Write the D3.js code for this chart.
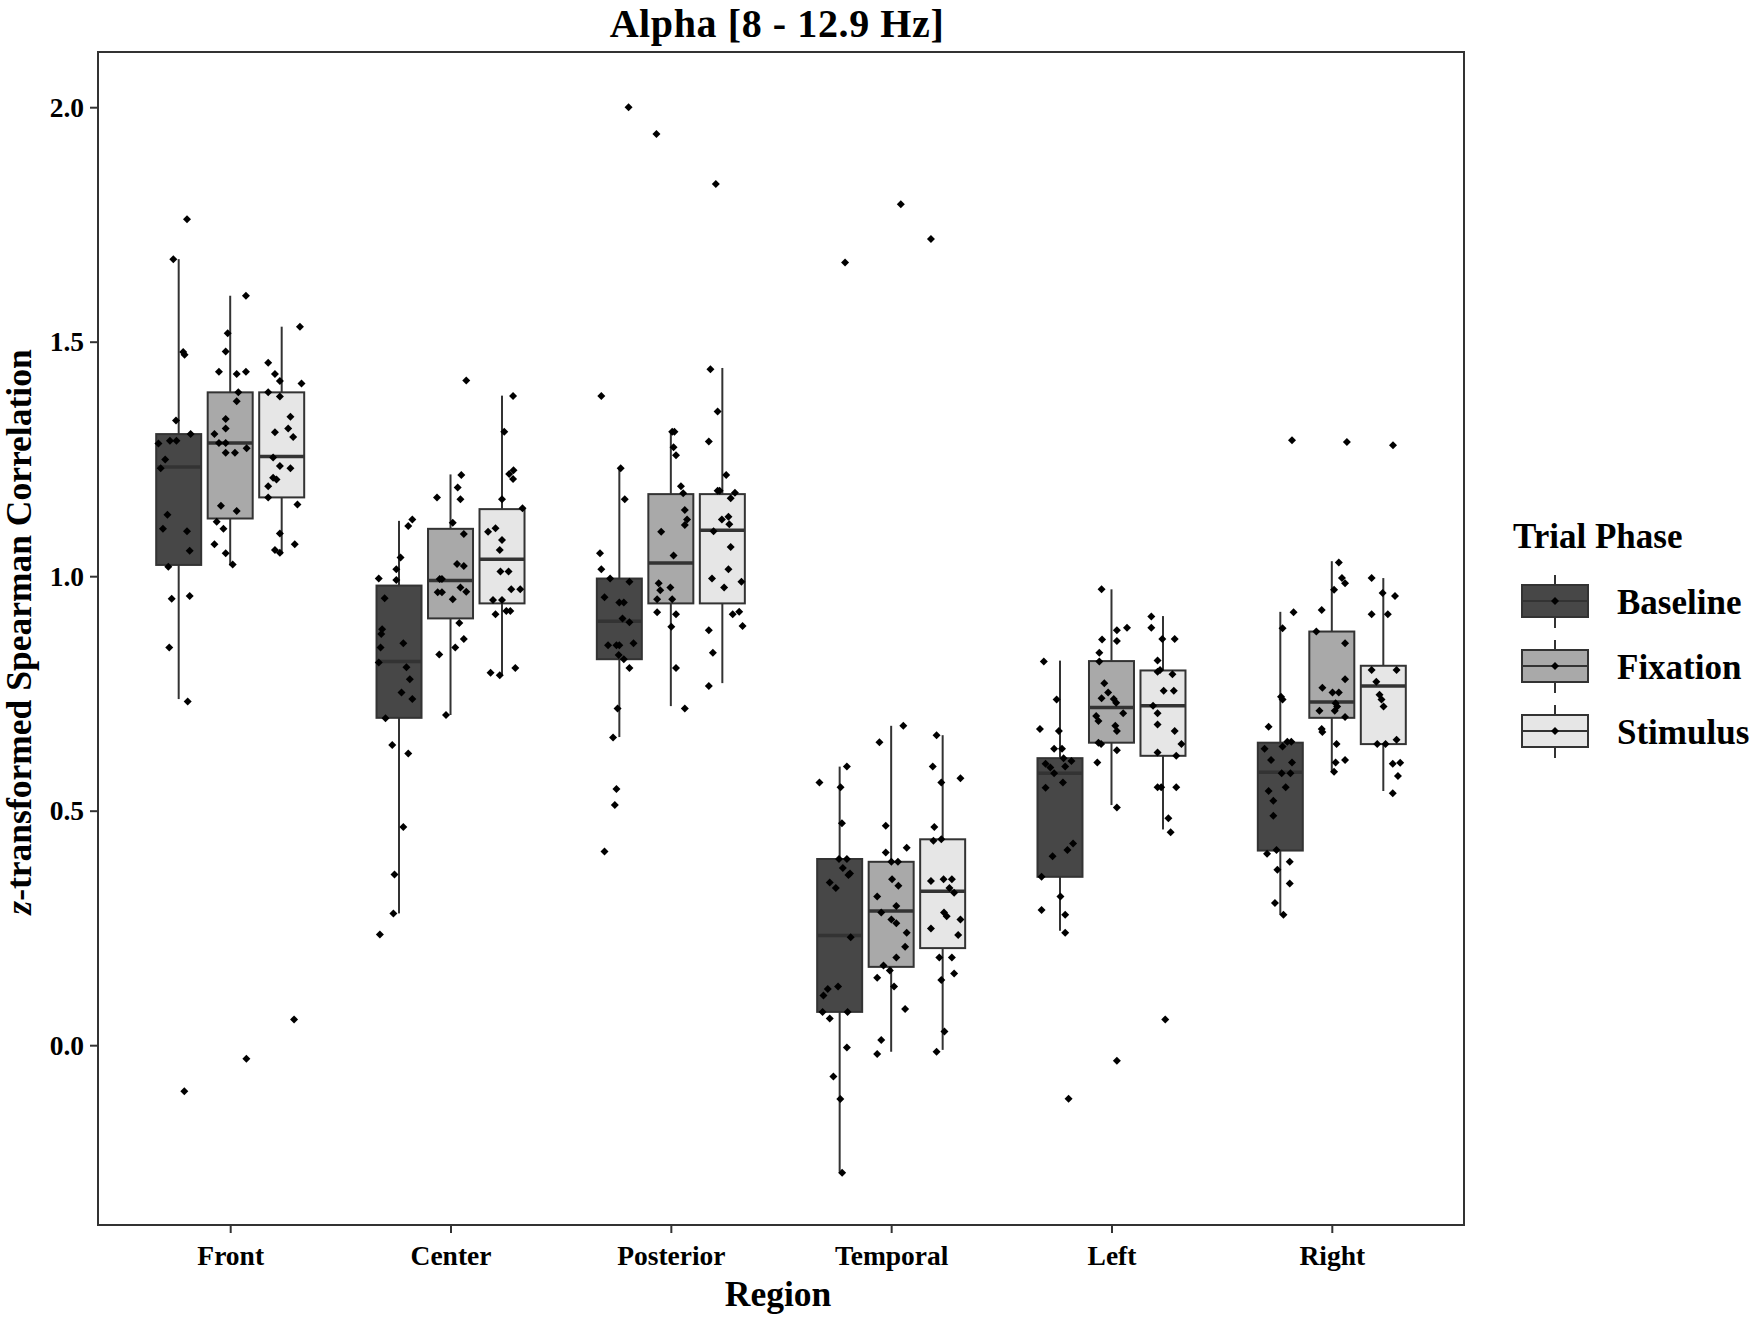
<!DOCTYPE html>
<html>
<head>
<meta charset="utf-8">
<script src="https://cdn.jsdelivr.net/npm/d3@7"></script>
<style>
    body { margin: 0; background: #ffffff; }
    text { font-family: 'Liberation Serif', 'Times New Roman', serif; font-weight: bold; fill: #000000; }
</style>
</head>
<body>
<div id="chart"></div>
<script>
var regions = ['Front', 'Center', 'Posterior', 'Temporal', 'Left', 'Right'];
var phases = ['Baseline', 'Fixation', 'Stimulus'];
var yTicks = [0.0, 0.5, 1.0, 1.5, 2.0];

// box stats per region: [lower whisker, q1, median, q3, upper whisker]
var baselineBoxes = [
    [0.738, 1.024, 1.233, 1.303, 1.676],
    [0.281, 0.698, 0.818, 0.980, 1.118],
    [0.657, 0.823, 0.904, 0.995, 1.230],
    [-0.270, 0.071, 0.234, 0.397, 0.594],
    [0.244, 0.359, 0.580, 0.612, 0.820],
    [0.278, 0.415, 0.582, 0.645, 0.924]
];
var fixationBoxes = [
    [1.023, 1.123, 1.284, 1.392, 1.598],
    [0.704, 0.910, 0.991, 1.101, 1.217],
    [0.723, 0.942, 1.028, 1.175, 1.308],
    [-0.014, 0.167, 0.286, 0.391, 0.681],
    [0.512, 0.645, 0.720, 0.819, 0.972],
    [0.583, 0.698, 0.732, 0.882, 1.032]
];
var stimulusBoxes = [
    [1.047, 1.168, 1.255, 1.392, 1.532],
    [0.789, 0.942, 1.036, 1.143, 1.385],
    [0.772, 0.942, 1.098, 1.175, 1.444],
    [-0.010, 0.207, 0.328, 0.439, 0.661],
    [0.460, 0.617, 0.724, 0.799, 0.915],
    [0.542, 0.642, 0.766, 0.809, 0.996]
];

// jittered observations: [value, jitter (-1..1 of half box width)]
var frontBaseline = [[1.761, 0.37], [1.676, -0.24], [1.478, 0.2], [1.472, 0.26], [1.332, -0.12], [1.303, 0.53], [1.289, -0.39], [1.289, -0.1], [1.283, -0.9], [1.249, -0.6], [1.230, -0.8], [1.131, -0.5], [1.101, -0.7], [1.096, 0.37], [1.054, 0.49], [1.020, -0.46], [0.952, -0.31], [0.958, 0.49], [0.848, -0.42], [0.733, 0.4], [-0.098, 0.25]];
var frontFixation = [[1.598, 0.70], [1.518, -0.11], [1.479, -0.2], [1.436, -0.5], [1.431, 0.29], [1.436, 0.70], [1.392, 0.36], [1.373, 0.29], [1.335, -0.2], [1.315, -0.2], [1.303, -0.7], [1.284, -0.5], [1.284, -0.2], [1.273, 0.73], [1.263, -0.2], [1.263, 0.21], [1.150, -0.41], [1.139, 0.29], [1.116, -0.6], [1.101, -0.3], [1.068, -0.7], [1.049, -0.2], [1.025, 0.11], [-0.029, 0.72]];
var frontStimulus = [[1.532, 0.81], [1.455, -0.6], [1.431, -0.3], [1.416, -0.08], [1.411, 0.88], [1.392, -0.6], [1.383, -0.08], [1.340, 0.39], [1.315, 0.29], [1.307, -0.3], [1.297, 0.51], [1.253, -0.38], [1.235, -0.08], [1.230, 0.39], [1.210, -0.38], [1.206, -0.23], [1.192, -0.6], [1.168, -0.6], [1.153, 0.7], [1.091, -0.08], [1.056, -0.3], [1.050, -0.08], [1.068, 0.58], [0.055, 0.55]];
var centerBaseline = [[1.121, 0.59], [1.107, 0.41], [1.040, 0.07], [1.015, -0.12], [0.992, -0.12], [0.995, -0.9], [0.953, -0.64], [0.887, -0.75], [0.877, -0.79], [0.857, 0.19], [0.848, -0.82], [0.816, -0.9], [0.806, 0.33], [0.780, 0.48], [0.752, 0.11], [0.738, 0.59], [0.697, -0.6], [0.640, -0.3], [0.622, 0.41], [0.465, 0.19], [0.364, -0.2], [0.281, -0.25], [0.236, -0.85]];
var centerFixation = [[1.417, 0.7], [1.216, 0.48], [1.189, 0.32], [1.168, -0.6], [1.164, 0.44], [1.114, 0.1], [1.090, 0.59], [1.026, 0.29], [1.022, 0.59], [0.994, -0.48], [0.994, -0.38], [0.976, 0.44], [0.966, -0.57], [0.966, -0.38], [0.951, 0.1], [0.967, 0.7], [0.900, 0.39], [0.866, 0.59], [0.848, 0.21], [0.833, -0.5], [0.704, -0.2]];
var centerStimulus = [[1.384, 0.49], [1.308, 0.1], [1.218, 0.32], [1.226, 0.51], [1.207, 0.49], [1.164, 0], [1.145, 0.91], [1.095, -0.62], [1.102, -0.29], [1.077, 0], [1.056, -0.1], [1.010, -0.07], [1.010, 0.29], [0.972, 0.41], [0.972, 0.81], [0.949, -0.4], [0.949, 0], [0.919, -0.29], [0.926, 0.19], [0.926, 0.37], [0.794, -0.51], [0.789, -0.1], [0.804, 0.59]];
var posteriorBaseline = [[2.000, 0.41], [1.384, -0.8], [1.230, 0.06], [1.164, 0.24], [1.049, -0.86], [1.015, -0.8], [0.995, -0.41], [0.988, 0.45], [0.955, -0.66], [0.944, 0], [0.944, 0.2], [0.910, 0.14], [0.902, 0.45], [0.853, -0.5], [0.853, -0.13], [0.853, 0], [0.857, 0.63], [0.832, -0.03], [0.823, 0.2], [0.804, 0.45], [0.718, -0.08], [0.656, -0.28], [0.546, -0.13], [0.512, -0.2], [0.413, -0.66]];
var posteriorFixation = [[1.943, -0.64], [1.308, 0.06], [1.308, 0.16], [1.275, 0.12], [1.258, 0.23], [1.192, 0.45], [1.177, 0.55], [1.141, 0.62], [1.121, 0.72], [1.109, 0.62], [1.095, -0.43], [1.044, 0.12], [0.985, -0.54], [0.970, -0.47], [0.976, -0.02], [0.951, -0.61], [0.951, 0.06], [0.923, -0.61], [0.919, 0.23], [0.892, 0.02], [0.804, 0.23], [0.718, 0.62]];
var posteriorStimulus = [[1.836, -0.29], [1.441, -0.53], [1.351, -0.21], [1.287, -0.6], [1.216, 0.17], [1.182, -0.21], [1.182, -0.12], [1.178, 0.56], [1.166, 0.37], [1.127, 0.27], [1.121, -0.02], [1.111, 0.31], [1.096, -0.39], [1.062, 0.37], [1.015, 0.27], [0.995, -0.46], [0.988, 0.85], [0.976, 0.08], [0.919, 0.46], [0.924, 0.75], [0.894, 0.9], [0.885, -0.6], [0.837, -0.42], [0.766, -0.6]];
var temporalBaseline = [[1.669, 0.24], [0.560, -0.9], [0.594, 0.32], [0.550, 0.04], [0.473, 0.1], [0.397, -0.03], [0.397, 0.32], [0.378, 0.14], [0.366, 0.46], [0.363, 0.39], [0.347, -0.44], [0.335, -0.17], [0.230, 0.49], [0.125, -0.07], [0.120, -0.53], [0.106, -0.72], [0.071, -0.76], [0.071, 0.35], [0.057, -0.44], [-0.005, 0.32], [-0.067, -0.28], [-0.115, 0.03], [-0.272, 0.11]];
var temporalFixation = [[1.793, 0.43], [0.681, 0.54], [0.646, -0.52], [0.468, -0.24], [0.421, 0.69], [0.411, -0.24], [0.391, 0.01], [0.391, 0.3], [0.354, 0.04], [0.340, 0.32], [0.317, -0.62], [0.297, 0.23], [0.283, -0.44], [0.268, 0.01], [0.260, 0.23], [0.240, 0.69], [0.210, 0.62], [0.187, 0.23], [0.170, -0.34], [0.144, -0.62], [0.159, -0.06], [0.125, 0.13], [0.077, 0.62], [0.011, -0.44], [-0.019, -0.62]];
var temporalStimulus = [[1.719, -0.52], [0.661, -0.27], [0.594, -0.44], [0.569, 0.79], [0.560, -0.06], [0.465, -0.37], [0.436, -0.41], [0.439, -0.06], [0.350, -0.52], [0.354, 0.04], [0.354, 0.41], [0.335, 0.3], [0.325, 0.51], [0.283, 0.06], [0.275, 0.18], [0.268, 0.79], [0.249, -0.52], [0.235, 0.69], [0.187, -0.15], [0.187, 0.41], [0.153, 0.51], [0.139, -0.06], [0.029, 0.08], [-0.014, -0.27]];
var leftBaseline = [[0.818, -0.72], [0.737, -0.15], [0.674, -0.89], [0.670, -0.05], [0.632, -0.26], [0.632, 0.09], [0.612, 0.16], [0.606, 0.51], [0.600, -0.64], [0.592, -0.43], [0.580, -0.26], [0.594, 0.23], [0.560, 0.13], [0.549, -0.64], [0.430, 0.58], [0.416, 0.33], [0.403, -0.33], [0.359, -0.82], [0.317, 0.02], [0.288, -0.82], [0.278, 0.23], [0.240, 0.23], [-0.114, 0.38]];
var leftFixation = [[0.972, -0.44], [0.885, 0.24], [0.890, 0.69], [0.862, 0.24], [0.865, -0.42], [0.837, -0.54], [0.818, -0.54], [0.772, -0.32], [0.752, -0.15], [0.738, 0.1], [0.740, -0.44], [0.730, 0.21], [0.708, 0.52], [0.702, -0.68], [0.691, -0.58], [0.681, 0.17], [0.670, 0.24], [0.645, -0.58], [0.642, -0.46], [0.629, 0.24], [0.603, -0.63], [0.507, 0.24], [-0.033, 0.24]];
var leftStimulus = [[0.914, -0.52], [0.890, -0.52], [0.866, -0.03], [0.866, 0.52], [0.820, -0.24], [0.796, -0.24], [0.800, -0.13], [0.791, 0.42], [0.756, 0.03], [0.756, 0.48], [0.724, -0.44], [0.708, -0.24], [0.684, -0.24], [0.670, 0.52], [0.642, 0.82], [0.624, -0.24], [0.617, 0.59], [0.550, -0.24], [0.550, -0.08], [0.550, 0.59], [0.484, 0.24], [0.454, 0.34], [0.055, 0.1]];
var rightBaseline = [[1.290, 0.52], [0.923, 0.59], [0.889, 0.1], [0.743, 0.03], [0.737, 0.1], [0.679, -0.52], [0.647, 0.49], [0.647, 0.31], [0.632, -0.7], [0.637, 0.1], [0.608, -0.41], [0.603, 0.52], [0.580, 0.06], [0.580, 0.45], [0.550, 0.24], [0.542, -0.52], [0.521, -0.31], [0.489, -0.31], [0.408, -0.59], [0.416, -0.17], [0.391, 0.42], [0.374, -0.13], [0.345, 0.42], [0.303, -0.24], [0.278, 0.14]];
var rightFixation = [[1.286, 0.67], [1.029, 0.31], [0.996, 0.45], [0.985, 0.59], [0.971, 0.1], [0.928, -0.45], [0.882, -0.69], [0.857, 0.59], [0.780, 0.59], [0.762, -0.42], [0.752, 0.03], [0.752, 0.31], [0.729, 0.17], [0.722, 0.24], [0.713, 0.13], [0.713, -0.55], [0.700, 0.59], [0.674, -0.45], [0.668, -0.42], [0.642, 0.21], [0.608, 0.59], [0.603, 0.17], [0.583, 0.1]];
var rightStimulus = [[1.279, 0.43], [0.996, -0.52], [0.964, -0.03], [0.958, 0.52], [0.919, -0.52], [0.919, 0.2], [0.800, -0.52], [0.800, 0.59], [0.775, -0.31], [0.747, -0.17], [0.737, -0.08], [0.722, 0.01], [0.642, -0.27], [0.642, 0.1], [0.651, 0.59], [0.600, 0.42], [0.602, 0.75], [0.574, 0.65], [0.537, 0.42]];

var phaseColors = ['#474747', '#a9a9a9', '#e6e6e6'];
var boxesByPhase = [baselineBoxes, fixationBoxes, stimulusBoxes];
var pointsByPhase = [
    [frontBaseline, centerBaseline, posteriorBaseline, temporalBaseline, leftBaseline, rightBaseline],
    [frontFixation, centerFixation, posteriorFixation, temporalFixation, leftFixation, rightFixation],
    [frontStimulus, centerStimulus, posteriorStimulus, temporalStimulus, leftStimulus, rightStimulus]
];

var width = 1751;
var height = 1318;
var panel = {left: 98, right: 1464, top: 52, bottom: 1225};
var lineColor = '#333333';
var boxWidth = 45;

var svg = d3.select('#chart')
    .append('svg')
    .attr('width', width)
    .attr('height', height);

var x = d3.scalePoint()
    .domain(regions)
    .range([panel.left, panel.right])
    .padding(0.6);

// dodge within each region
var dodge = d3.scalePoint()
    .domain(phases)
    .range([-51.5, 51.5]);

var y = d3.scaleLinear()
    .domain([-0.3834, 2.1177])
    .range([panel.bottom, panel.top]);

// flatten into one record per box
var boxes = [];
phases.forEach(function (phase, p) {
    regions.forEach(function (region, r) {
        var s = boxesByPhase[p][r];
        boxes.push({
            region: region,
            phase: phase,
            color: phaseColors[p],
            lo: s[0], q1: s[1], med: s[2], q3: s[3], hi: s[4],
            points: pointsByPhase[p][r]
        });
    });
});

function cx(d) {
    return x(d.region) + dodge(d.phase);
}

var plot = svg.append('g');

// whiskers
plot.selectAll('.whisker-hi')
    .data(boxes)
    .enter()
    .append('line')
    .attr('x1', cx)
    .attr('x2', cx)
    .attr('y1', function (d) { return y(d.hi); })
    .attr('y2', function (d) { return y(d.q3); })
    .style('stroke', lineColor)
    .style('stroke-width', 2);

plot.selectAll('.whisker-lo')
    .data(boxes)
    .enter()
    .append('line')
    .attr('x1', cx)
    .attr('x2', cx)
    .attr('y1', function (d) { return y(d.q1); })
    .attr('y2', function (d) { return y(d.lo); })
    .style('stroke', lineColor)
    .style('stroke-width', 2);

// boxes
plot.selectAll('.box')
    .data(boxes)
    .enter()
    .append('rect')
    .attr('x', function (d) { return cx(d) - boxWidth / 2; })
    .attr('y', function (d) { return y(d.q3); })
    .attr('width', boxWidth)
    .attr('height', function (d) { return y(d.q1) - y(d.q3); })
    .style('fill', function (d) { return d.color; })
    .style('stroke', lineColor)
    .style('stroke-width', 2);

// medians
plot.selectAll('.median')
    .data(boxes)
    .enter()
    .append('line')
    .attr('x1', function (d) { return cx(d) - boxWidth / 2; })
    .attr('x2', function (d) { return cx(d) + boxWidth / 2; })
    .attr('y1', function (d) { return y(d.med); })
    .attr('y2', function (d) { return y(d.med); })
    .style('stroke', lineColor)
    .style('stroke-width', 3.5);

// jittered points
var dot = d3.symbol().type(d3.symbolSquare).size(32);
var allPoints = [];
boxes.forEach(function (b) {
    b.points.forEach(function (pt) {
        allPoints.push({x: cx(b) + pt[1] * boxWidth / 2, v: pt[0]});
    });
});
plot.selectAll('.pt')
    .data(allPoints)
    .enter()
    .append('path')
    .attr('d', dot)
    .attr('transform', function (d) {
        return 'translate(' + d.x + ',' + y(d.v) + ') rotate(45)';
    })
    .style('fill', '#000000');

// panel border
svg.append('rect')
    .attr('x', panel.left)
    .attr('y', panel.top)
    .attr('width', panel.right - panel.left)
    .attr('height', panel.bottom - panel.top)
    .style('fill', 'none')
    .style('stroke', lineColor)
    .style('stroke-width', 2);

// axes
var yAxis = svg.append('g')
    .attr('transform', 'translate(' + panel.left + ',0)')
    .call(d3.axisLeft(y)
        .tickValues(yTicks)
        .tickFormat(d3.format('.1f'))
        .tickSize(8)
        .tickPadding(6));
var xAxis = svg.append('g')
    .attr('transform', 'translate(0,' + panel.bottom + ')')
    .call(d3.axisBottom(x)
        .tickSize(8)
        .tickPadding(12));

[yAxis, xAxis].forEach(function (ax) {
    ax.select('.domain').remove();
    ax.selectAll('.tick line')
        .style('stroke', lineColor)
        .style('stroke-width', 2);
    ax.selectAll('.tick text')
        .style('font-family', "'Liberation Serif', serif")
        .style('font-weight', 'bold')
        .style('font-size', '27.5px')
        .style('fill', '#000000');
});

// titles
svg.append('text')
    .attr('x', 777)
    .attr('y', 37)
    .attr('text-anchor', 'middle')
    .style('font-size', '40px')
    .style('letter-spacing', '0.6px')
    .text('Alpha [8 - 12.9 Hz]');

svg.append('text')
    .attr('x', (panel.left + panel.right) / 2 - 3)
    .attr('y', 1306)
    .attr('text-anchor', 'middle')
    .style('font-size', '35.5px')
    .text('Region');

var yTitle = svg.append('text')
    .attr('transform', 'translate(31,' + 632 + ') rotate(-90)')
    .attr('text-anchor', 'middle')
    .style('font-size', '35.5px');
yTitle.append('tspan')
    .style('font-style', 'italic')
    .text('z');
yTitle.append('tspan')
    .text('-transformed Spearman Correlation');

// legend
var legend = svg.append('g')
    .attr('transform', 'translate(1513,0)');
legend.append('text')
    .attr('x', 0)
    .attr('y', 548)
    .style('font-size', '35px')
    .text('Trial Phase');

var key = legend.selectAll('.key')
    .data(phases)
    .enter()
    .append('g')
    .attr('transform', function (d, i) {
        return 'translate(0,' + (601 + i * 65) + ')';
    });
key.append('line')
    .attr('x1', 42).attr('x2', 42)
    .attr('y1', -26).attr('y2', 27)
    .style('stroke', lineColor)
    .style('stroke-width', 2);
key.append('rect')
    .attr('x', 9)
    .attr('y', -16)
    .attr('width', 66)
    .attr('height', 32)
    .style('fill', function (d, i) { return phaseColors[i]; })
    .style('stroke', lineColor)
    .style('stroke-width', 2);
key.append('line')
    .attr('x1', 9).attr('x2', 75)
    .attr('y1', 0).attr('y2', 0)
    .style('stroke', lineColor)
    .style('stroke-width', 2);
key.append('path')
    .attr('d', dot)
    .attr('transform', 'translate(42,0) rotate(45)')
    .style('fill', '#000000');
key.append('text')
    .attr('x', 104)
    .attr('y', 13)
    .style('font-size', '35px')
    .text(function (d) { return d; });
</script>
</body>
</html>
